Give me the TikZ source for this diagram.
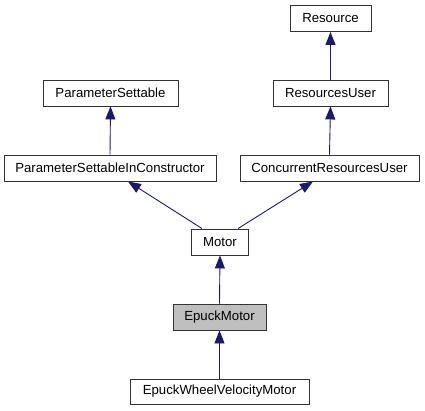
\documentclass[tikz,border=0pt]{standalone}
\usepackage{fontspec}
\setmainfont{Liberation Sans}
\usetikzlibrary{arrows.meta}
\definecolor{edgecol}{HTML}{191970}
\definecolor{boxline}{HTML}{333333}
\definecolor{hlfill}{HTML}{BFBFBF}
\begin{document}
\begin{tikzpicture}[x=1pt,y=1pt,
  cls/.style={draw=boxline,line width=0.9pt,fill=white,inner sep=0pt,
    font=\fontsize{13.2}{15}\selectfont,minimum height=26pt},
  edge/.style={draw=edgecol,line width=0.9pt,-{Triangle[length=13pt,width=10pt,fill=edgecol]}}]
\useasboundingbox (0,0) rectangle (425,-411);
\node[cls,minimum width=81pt]  (res)  at (330.5,-18.5) {Resource};
\node[cls,minimum width=115pt] (ru)   at (330.5,-93)   {ResourcesUser};
\node[cls,minimum width=135pt] (ps)   at (110.5,-93)   {ParameterSettable};
\node[cls,minimum width=212pt] (psic) at (110,-168)    {ParameterSettableInConstructor};
\node[cls,minimum width=179pt] (cru)  at (329.5,-168)  {ConcurrentResourcesUser};
\node[cls,minimum width=57pt]  (mot)  at (220,-242)    {Motor};
\node[cls,minimum width=93pt,fill=hlfill] (em) at (219.5,-317) {EpuckMotor};
\node[cls,minimum width=179pt,minimum height=25pt] (ewvm) at (219.5,-391.5) {EpuckWheelVelocityMotor};
\draw[edge] (ru.north) -- (res.south);
\draw[edge] (cru.north) -- (ru.south);
\draw[edge] (psic.north) -- (ps.south);
\draw[edge] ([xshift=-18pt]mot.north) -- ([xshift=18pt]psic.south);
\draw[edge] ([xshift=18pt]mot.north) -- ([xshift=-16.5pt]cru.south);
\draw[edge] (em.north) -- (mot.south);
\draw[edge] (ewvm.north) -- (em.south);
\end{tikzpicture}
\end{document}
